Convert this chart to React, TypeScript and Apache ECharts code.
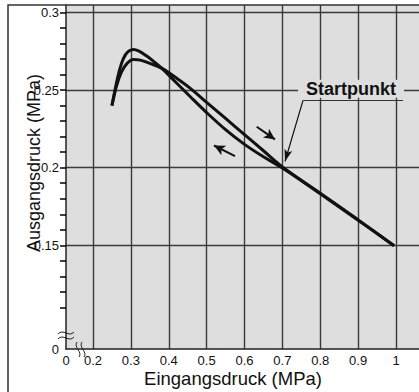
import React, { useEffect, useRef } from "react";
import * as echarts from "echarts";

// Axis extents (the axis origin is a broken axis, labelled "0")
const X_MIN = 0.1287;
const X_MAX = 1.0607;
const Y_MIN = 0.0832;
const Y_MAX = 0.3048;

const xGridValues = [0.2, 0.3, 0.4, 0.5, 0.6, 0.7, 0.8, 0.9, 1.0];
const yGridValues = [0.15, 0.2, 0.25, 0.3];
const yMinorTicks = [0.11, 0.12, 0.13, 0.14, 0.15, 0.16, 0.17, 0.18, 0.19, 0.2, 0.21, 0.22, 0.23, 0.24, 0.25, 0.26, 0.27, 0.28, 0.29, 0.3];

// Rising inlet pressure branch (Eingangsdruck steigend)
const upX = [0.25, 0.262, 0.275, 0.29, 0.307, 0.325, 0.35, 0.382, 0.42, 0.457, 0.5, 0.55, 0.6, 0.65, 0.7, 0.8, 0.9, 0.995];
const upY = [0.24, 0.2525, 0.2615, 0.2672, 0.2697, 0.2693, 0.2672, 0.264, 0.2578, 0.2511, 0.2421, 0.2317, 0.2213, 0.2109, 0.2005, 0.1836, 0.1664, 0.1497];

// Falling inlet pressure branch (Eingangsdruck fallend)
const downX = [0.995, 0.9, 0.8, 0.7, 0.65, 0.6, 0.55, 0.5, 0.457, 0.42, 0.382, 0.36, 0.34, 0.32, 0.307, 0.295, 0.285, 0.275, 0.265, 0.25];
const downY = [0.1497, 0.1662, 0.1832, 0.1998, 0.207, 0.215, 0.2245, 0.2355, 0.2457, 0.2547, 0.264, 0.2685, 0.2722, 0.2752, 0.2761, 0.2752, 0.2725, 0.267, 0.258, 0.24];

// Annotation anchors (data coordinates)
const arrowUpTail = [0.6322, 0.2264];
const arrowUpHead = [0.6805, 0.2182];
const arrowDownTail = [0.5749, 0.2074];
const arrowDownHead = [0.5195, 0.2143];
const leaderTail = [0.7545, 0.2434];
const leaderHead = [0.7069, 0.204];
const underlineEnd = [1.0185, 0.2434];
const labelCenter = [0.8812, 0.2508];
const labelText = "Startpunkt";

const FONT = '"Liberation Sans", Arial, Helvetica, sans-serif';
const BG = "#dedede";
const INK = "#111";
const GRIDC = "#3a3a3a";

const zip = (xs: number[], ys: number[]) => xs.map((x, i) => [x, ys[i]]);

export default function App() {
  const ref = useRef<HTMLDivElement>(null);
  useEffect(() => {
    if (!ref.current) return;
    const chart = echarts.init(ref.current, null, { renderer: "svg" });
    const fmt0 = (min: number) => (v: number) =>
      Math.abs(v - min) < 1e-6 ? "0" : String(Math.round(v * 1000) / 1000);

    const baseGraphic: any[] = [
      {
        id: "frame",
        type: "rect",
        z: 50,
        silent: true,
        shape: { x: 8, y: 5, width: 600, height: 600 },
        style: { fill: "none", stroke: "#333", lineWidth: 1.5 },
      },
      {
        id: "ytitle",
        type: "text",
        z: 50,
        x: 34,
        y: 163,
        rotation: Math.PI / 2,
        style: {
          text: "Ausgangsdruck (MPa)",
          align: "center",
          verticalAlign: "middle",
          fill: INK,
          font: `18px ${FONT}`,
        },
      },
      {
        id: "xtitle",
        type: "text",
        z: 50,
        x: 233,
        y: 378,
        style: {
          text: "Eingangsdruck (MPa)",
          align: "center",
          verticalAlign: "middle",
          fill: INK,
          font: `18.5px ${FONT}`,
        },
      },
      // y-axis break marks
      {
        id: "yb1",
        type: "bezierCurve",
        z: 50,
        shape: { x1: 58, y1: 334, x2: 74, y2: 332, cpx1: 63, cpy1: 328, cpx2: 69, cpy2: 338 },
        style: { stroke: "#222", lineWidth: 1, fill: "none" },
      },
      {
        id: "yb2",
        type: "bezierCurve",
        z: 50,
        shape: { x1: 58, y1: 339, x2: 74, y2: 337, cpx1: 63, cpy1: 333, cpx2: 69, cpy2: 343 },
        style: { stroke: "#222", lineWidth: 1, fill: "none" },
      },
      // x-axis break marks
      {
        id: "xb1",
        type: "bezierCurve",
        z: 50,
        shape: { x1: 77, y1: 342, x2: 79, y2: 357, cpx1: 73, cpy1: 347, cpx2: 83, cpy2: 352 },
        style: { stroke: "#222", lineWidth: 1, fill: "none" },
      },
      {
        id: "xb2",
        type: "bezierCurve",
        z: 50,
        shape: { x1: 82, y1: 342, x2: 84, y2: 357, cpx1: 78, cpy1: 347, cpx2: 88, cpy2: 352 },
        style: { stroke: "#222", lineWidth: 1, fill: "none" },
      },
    ];

    chart.setOption({
      animation: false,
      textStyle: { fontFamily: FONT },
      grid: {
        left: 66,
        top: 5,
        right: 0,
        bottom: 43,
        show: true,
        backgroundColor: BG,
        borderWidth: 0,
      },
      xAxis: {
        type: "value",
        min: X_MIN,
        max: X_MAX,
        axisLine: { show: true, lineStyle: { color: "#222", width: 1.5 } },
        axisTick: { show: false, customValues: xGridValues },
        axisLabel: {
          customValues: [X_MIN, ...xGridValues],
          formatter: fmt0(X_MIN),
          color: INK,
          fontSize: 13,
          fontFamily: FONT,
          margin: 5,
        },
        splitLine: { show: true, lineStyle: { color: GRIDC, width: 1.4 } },
      },
      yAxis: [
        {
          type: "value",
          min: Y_MIN,
          max: Y_MAX,
          axisLine: { show: true, lineStyle: { color: "#222", width: 1.5 } },
          axisTick: {
            show: true,
            inside: false,
            customValues: yMinorTicks,
            length: 6,
            lineStyle: { color: "#000", width: 1.5 },
          },
          axisLabel: {
            customValues: [Y_MIN, ...yGridValues],
            formatter: fmt0(Y_MIN),
            color: INK,
            fontSize: 13,
            fontFamily: FONT,
            margin: 7,
          },
          splitLine: { show: false },
        },
        {
          type: "value",
          min: Y_MIN,
          max: Y_MAX,
          position: "left",
          axisLine: { show: false },
          axisTick: { show: false, customValues: yGridValues },
          axisLabel: { show: false },
          splitLine: { show: true, lineStyle: { color: GRIDC, width: 1.4 } },
        },
      ],
      series: [
        {
          name: "steigend",
          type: "line",
          data: zip(upX, upY),
          smooth: 0.35,
          showSymbol: false,
          symbol: "none",
          lineStyle: { color: INK, width: 3 },
          z: 3,
        },
        {
          name: "fallend",
          type: "line",
          data: zip(downX, downY),
          smooth: 0.35,
          showSymbol: false,
          symbol: "none",
          lineStyle: { color: INK, width: 3 },
          z: 3,
          markLine: {
            silent: true,
            symbol: ["none", "none"],
            label: { show: false },
            emphasis: { disabled: true },
            lineStyle: { type: "solid", color: INK },
            data: [
              [
                { coord: arrowUpTail, symbol: "none", lineStyle: { color: INK, width: 2, type: "solid" } },
                { coord: arrowUpHead, symbol: "arrow", symbolSize: [8, 11] },
              ],
              [
                { coord: arrowDownTail, symbol: "none", lineStyle: { color: INK, width: 2, type: "solid" } },
                { coord: arrowDownHead, symbol: "arrow", symbolSize: [8, 11] },
              ],
              [
                { coord: leaderTail, symbol: "none", lineStyle: { color: INK, width: 1.2, type: "solid" } },
                { coord: leaderHead, symbol: "arrow", symbolSize: [6, 12] },
              ],
              [
                { coord: leaderTail, symbol: "none", lineStyle: { color: "#333", width: 1.2, type: "solid" } },
                { coord: underlineEnd, symbol: "none" },
              ],
            ],
          },
          markPoint: {
            silent: true,
            symbol: "rect",
            symbolSize: [106, 18],
            itemStyle: { color: BG },
            label: {
              show: true,
              position: "inside",
              formatter: labelText,
              color: INK,
              fontWeight: "bold",
              fontSize: 18,
              fontFamily: FONT,
            },
            data: [{ coord: labelCenter }],
          },
        },
      ],
      graphic: baseGraphic,
    });

    return () => chart.dispose();
  }, []);
  return (
    <div
      ref={ref}
      style={{ position: "fixed", left: 0, top: 0, width: 419, height: 392, background: "#fff" }}
    />
  );
}
